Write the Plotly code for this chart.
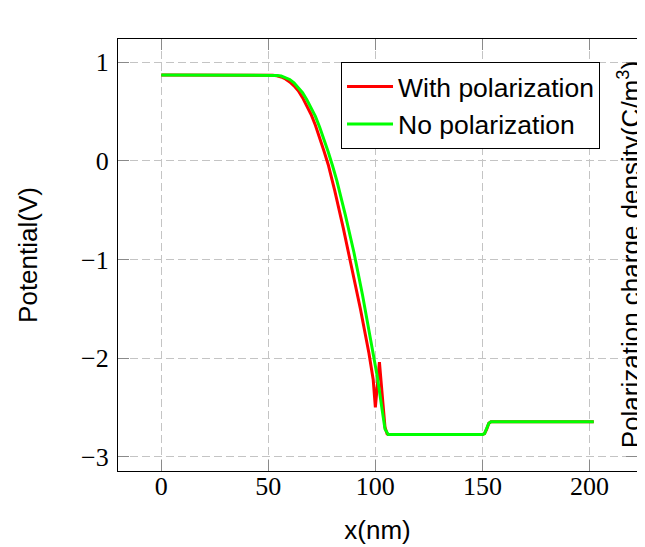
import plotly.graph_objects as go

# Data
x_with = [0, 50, 52, 54, 56, 58, 60, 62, 64, 66, 68, 70, 72, 74, 76, 78, 81, 85, 89, 93, 97, 99, 100, 101.9, 103.5, 104.5, 105.5, 106,
          150, 151, 152, 153, 154, 202]
v_with = [0.87, 0.87, 0.868, 0.862, 0.85, 0.83, 0.80, 0.76, 0.71, 0.64, 0.56, 0.47, 0.36, 0.24, 0.10, -0.04, -0.30, -0.68, -1.08, -1.50, -1.95, -2.22, -2.50, -2.04, -2.45, -2.70, -2.77, -2.775,
          -2.775, -2.765, -2.72, -2.66, -2.645, -2.645]

x_no = [0, 50, 52, 54, 56, 58, 60, 62, 64, 66, 68, 70, 72, 74, 76, 78, 80, 82, 86, 90, 94, 98, 101, 103, 104.5, 106,
        150, 151, 152, 153, 154, 202]
v_no = [0.87, 0.87, 0.869, 0.866, 0.86, 0.845, 0.825, 0.79, 0.745, 0.69, 0.62, 0.54, 0.45, 0.34, 0.22, 0.09, -0.05, -0.20, -0.55, -0.93, -1.36, -1.82, -2.20, -2.50, -2.72, -2.775,
        -2.775, -2.765, -2.72, -2.66, -2.645, -2.645]

x_ticks = [0, 50, 100, 150, 200]
y_ticks = [-3, -2, -1, 0, 1]

sans = "Liberation Sans, Arial, sans-serif"
serif = "Liberation Serif, Times New Roman, serif"

fig = go.Figure()
fig.add_trace(go.Scatter(x=x_with, y=v_with, mode="lines", name="With polarization",
                         line=dict(color="#ff0000", width=3)))
fig.add_trace(go.Scatter(x=x_no, y=v_no, mode="lines", name="No polarization",
                         line=dict(color="#00ff00", width=3)))

axis_common = dict(
    showline=True, linecolor="black", linewidth=1.2, mirror="allticks",
    ticks="inside", ticklen=11, tickcolor="#8a8a8a", tickwidth=1,
    showgrid=True, gridcolor="#c4c4c4", gridwidth=1.2, griddash="8px,4px",
    zeroline=False, automargin=False,
    tickfont=dict(family=serif, size=26, color="black"),
)

# page body has an 8px margin, so the figure is sized to fill the rest of the window
fig.update_layout(
    width=637, height=539,
    margin=dict(l=110, r=8, t=31, b=76),
    plot_bgcolor="white", paper_bgcolor="white",
    xaxis=dict(range=[-20.2, 222.2], tickvals=x_ticks, ticklabelstandoff=-8,
               title=dict(text="x(nm)", font=dict(family=sans, size=26, color="black"), standoff=20),
               **axis_common),
    yaxis=dict(range=[-3.145, 1.235], tickvals=y_ticks, ticklabelstandoff=3,
               title=dict(text="Potential(V)", font=dict(family=sans, size=26, color="black"), standoff=35),
               **axis_common),
    legend=dict(x=0.4297, y=0.947, xanchor="left", yanchor="top",
                bordercolor="black", borderwidth=1, bgcolor="white",
                font=dict(family=sans, size=26.5, color="black"),
                itemwidth=46, tracegroupgap=0),
    annotations=[dict(text="Polarization charge density(C/m<sup>3</sup>)", textangle=-90,
                      xref="paper", yref="paper", x=0.985, y=0.5,
                      xanchor="center", yanchor="middle", showarrow=False,
                      font=dict(family=sans, size=26, color="black"))],
    showlegend=True,
)

fig.write_html("out.html")
